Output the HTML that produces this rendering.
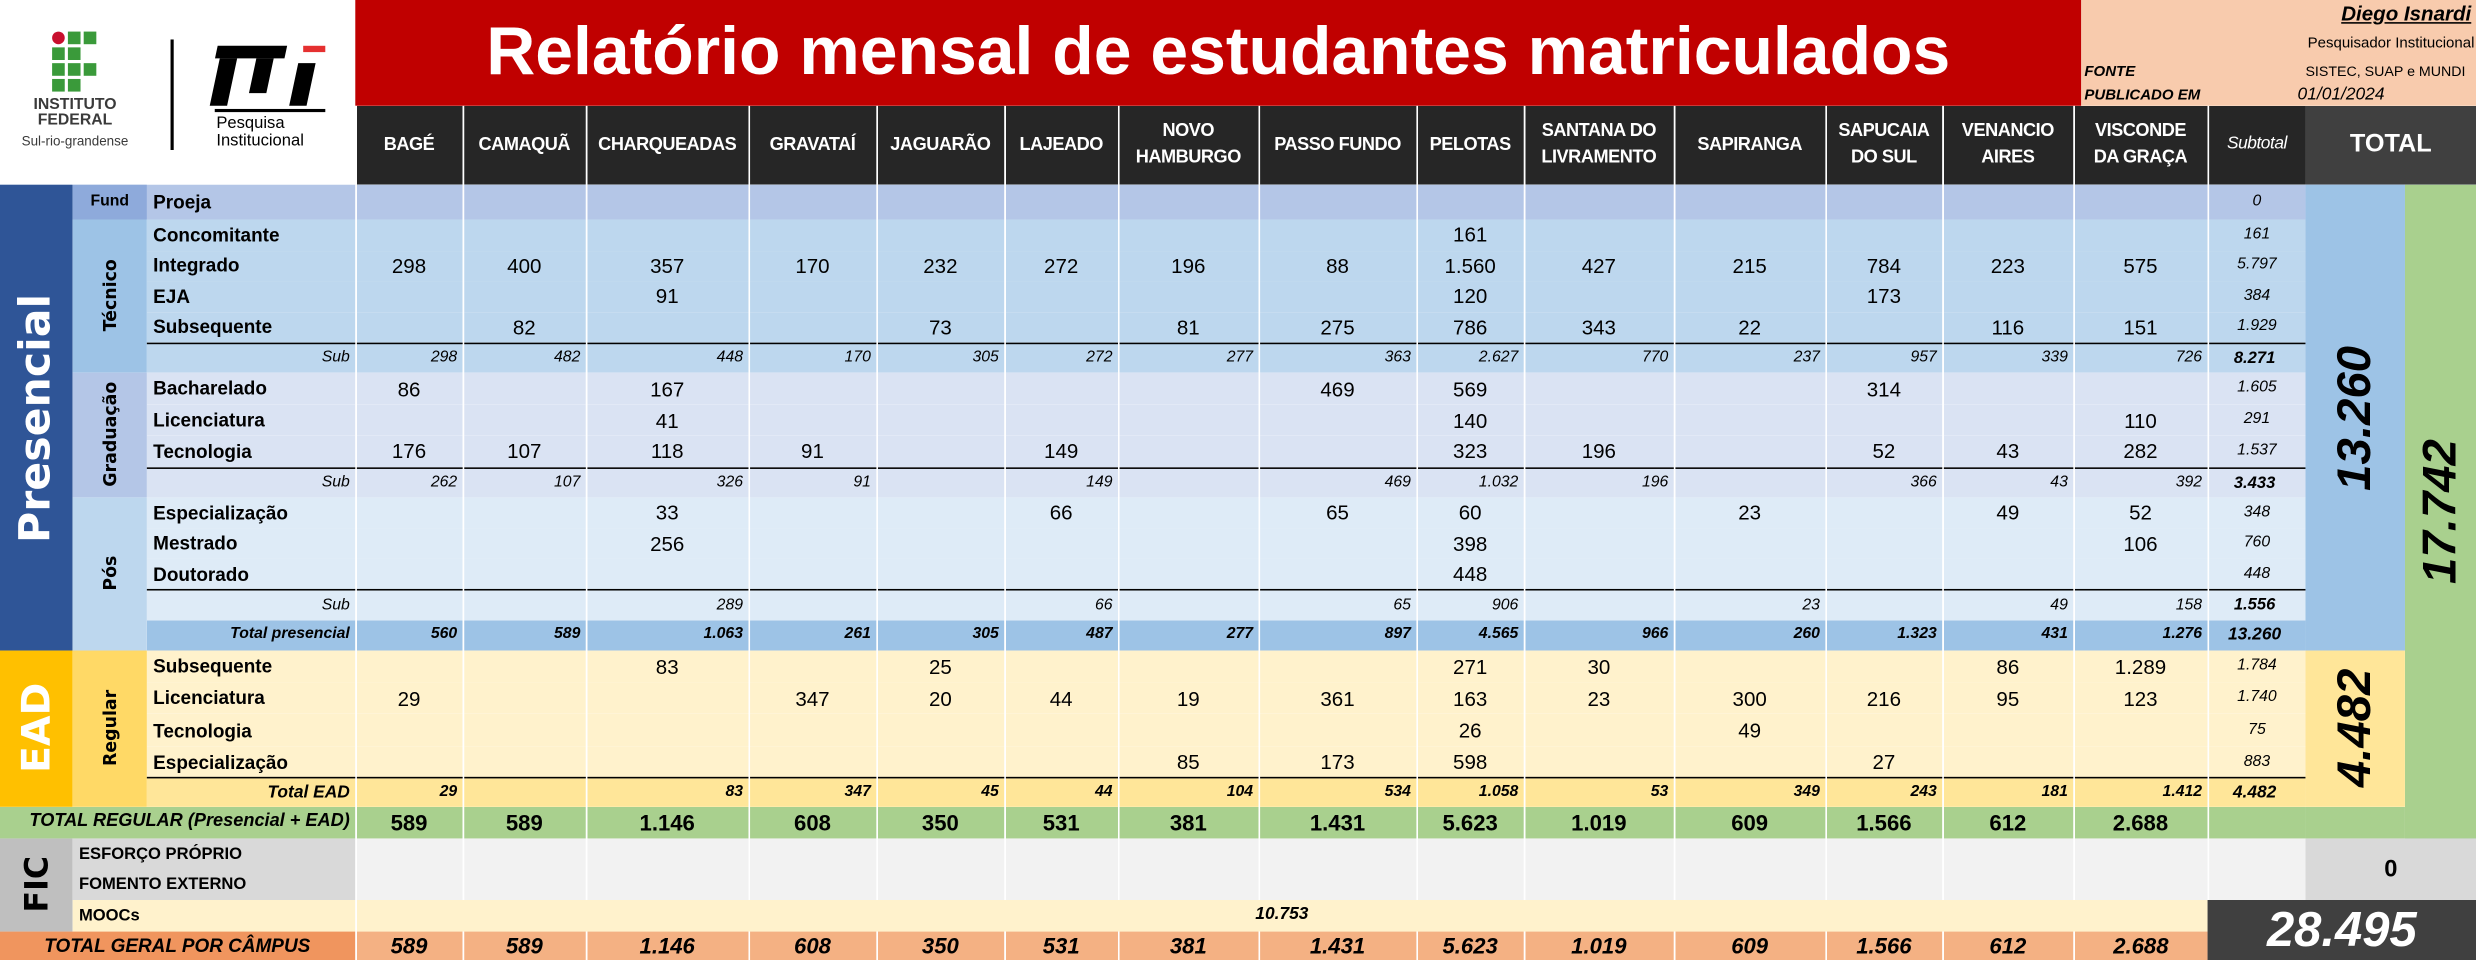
<!DOCTYPE html>
<html><head><meta charset="utf-8">
<style>
html,body{margin:0;padding:0;background:#fff;}
body{width:2476px;height:960px;overflow:hidden;position:relative;}
#w{position:absolute;left:0;top:0;width:1568px;height:608px;transform:scale(1.57908,1.57895);transform-origin:0 0;font-family:"Liberation Sans",sans-serif;}
.abs{position:absolute;}
table{position:absolute;left:0;top:67px;border-collapse:collapse;table-layout:fixed;width:1568px;}
td{padding:0;margin:0;overflow:hidden;white-space:nowrap;text-align:center;font-size:13px;color:#000;line-height:1;}
td.c{border-left:1px solid #fff;}
.lab{text-align:left;padding-left:4px;font-weight:bold;font-size:12px;}
.hd td.c{background:#262626;color:#fff;font-weight:bold;font-size:11.5px;line-height:1.45;letter-spacing:-0.3px;}
.sub td{font-style:italic;font-size:10px;text-align:right;padding-right:3px;border-top:1px solid #000;}
.sub td.st{text-align:center;font-size:10.5px;font-weight:bold;}
.it{font-style:italic;font-size:10px;}
.rl{position:absolute;transform:translate(-50%,-50%) rotate(-90deg);white-space:nowrap;line-height:1;}
.tp td{background:#9dc3e6;font-weight:bold;font-style:italic;font-size:10px;text-align:right;padding-right:3px;}
.te td{background:#ffe699;font-weight:bold;font-style:italic;font-size:10px;text-align:right;padding-right:3px;border-top:1px solid #000;}
.tr td{background:#a9d08e;font-weight:bold;font-size:14px;}
.tg td{background:#f4b183;font-weight:bold;font-style:italic;font-size:14px;}
.tec td{background:#bdd7ee;}
.gra td{background:#dae3f3;}
.pos td{background:#deebf7;}
.ead td{background:#fff2cc;}
.fic td{background:#f2f2f2;}
</style></head><body>
<div id="w">
<div class="abs" style="left:0;top:0;width:225px;height:117px;background:#fff;"></div>
<div class="abs" style="left:33px;top:20px;width:8px;height:8px;border-radius:50%;background:#c8102e;"></div>
<div class="abs" style="left:43px;top:20px;width:8px;height:8px;background:#3a9a3a;"></div>
<div class="abs" style="left:53px;top:20px;width:8px;height:8px;background:#3a9a3a;"></div>
<div class="abs" style="left:33px;top:30px;width:8px;height:8px;background:#3a9a3a;"></div>
<div class="abs" style="left:43px;top:30px;width:8px;height:8px;background:#3a9a3a;"></div>
<div class="abs" style="left:33px;top:40px;width:8px;height:8px;background:#3a9a3a;"></div>
<div class="abs" style="left:43px;top:40px;width:8px;height:8px;background:#3a9a3a;"></div>
<div class="abs" style="left:53px;top:40px;width:8px;height:8px;background:#3a9a3a;"></div>
<div class="abs" style="left:33px;top:50px;width:8px;height:8px;background:#3a9a3a;"></div>
<div class="abs" style="left:43px;top:50px;width:8px;height:8px;background:#3a9a3a;"></div>
<div class="abs" style="left:10px;top:62px;width:75px;text-align:center;font-weight:bold;font-size:10px;line-height:10px;color:#3a3a3a;">INSTITUTO<br>FEDERAL</div>
<div class="abs" style="left:5px;top:84px;width:85px;text-align:center;font-size:8.5px;color:#3a3a3a;">Sul-rio-grandense</div>
<div class="abs" style="left:108px;top:25px;width:1.5px;height:70px;background:#000;"></div>
<div class="abs" style="left:137px;top:29px;width:44px;height:8px;background:#000;transform:skewX(-12deg);"></div>
<div class="abs" style="left:136px;top:37px;width:11px;height:30px;background:#000;transform:skewX(-12deg);"></div>
<div class="abs" style="left:160px;top:37px;width:11px;height:22px;background:#000;transform:skewX(-12deg);"></div>
<div class="abs" style="left:186px;top:40px;width:11px;height:27px;background:#000;transform:skewX(-12deg);"></div>
<div class="abs" style="left:192px;top:29px;width:14px;height:4px;background:#e53030;"></div>
<div class="abs" style="left:136px;top:69px;width:70px;height:2px;background:#000;"></div>
<div class="abs" style="left:137px;top:73px;font-size:10.5px;line-height:11px;color:#000;">Pesquisa<br>Institucional</div>
<div class="abs" style="left:225px;top:0;width:1093px;height:67px;background:#c00000;color:#fff;font-weight:bold;font-size:43px;line-height:67px;text-align:center;white-space:nowrap;">Relatório mensal de estudantes matriculados</div>
<div class="abs" style="left:1318px;top:0;width:250px;height:67px;background:#f8cbad;"></div>
<div class="abs" style="left:1318px;top:1px;width:247px;text-align:right;font-weight:bold;font-style:italic;font-size:13px;text-decoration:underline;white-space:nowrap;">Diego Isnardi</div>
<div class="abs" style="left:1318px;top:22px;width:249px;text-align:right;font-size:9.5px;white-space:nowrap;">Pesquisador Institucional</div>
<div class="abs" style="left:1320px;top:40px;font-weight:bold;font-style:italic;font-size:9.5px;white-space:nowrap;">FONTE</div>
<div class="abs" style="left:1460px;top:40px;font-size:9px;white-space:nowrap;">SISTEC, SUAP e MUNDI</div>
<div class="abs" style="left:1320px;top:55px;font-weight:bold;font-style:italic;font-size:9.5px;white-space:nowrap;">PUBLICADO EM</div>
<div class="abs" style="left:1455px;top:54px;font-style:italic;font-size:11px;white-space:nowrap;">01/01/2024</div>

<table>
<colgroup><col style="width:46px"><col style="width:47px"><col style="width:132px"><col style="width:68px"><col style="width:78px"><col style="width:103px"><col style="width:81px"><col style="width:81px"><col style="width:72px"><col style="width:89px"><col style="width:100px"><col style="width:68px"><col style="width:95px"><col style="width:96px"><col style="width:74px"><col style="width:83px"><col style="width:85px"><col style="width:62px"><col style="width:63px"><col style="width:45px"></colgroup>
<tr class="hd" style="height:50px"><td colspan="3" style="background:transparent"></td><td class="c">BAGÉ</td><td class="c">CAMAQUÃ</td><td class="c">CHARQUEADAS</td><td class="c">GRAVATAÍ</td><td class="c">JAGUARÃO</td><td class="c">LAJEADO</td><td class="c">NOVO<br>HAMBURGO</td><td class="c">PASSO FUNDO</td><td class="c">PELOTAS</td><td class="c">SANTANA DO<br>LIVRAMENTO</td><td class="c">SAPIRANGA</td><td class="c">SAPUCAIA<br>DO SUL</td><td class="c">VENANCIO<br>AIRES</td><td class="c">VISCONDE<br>DA GRAÇA</td><td class="c" style="font-weight:normal;font-style:italic;font-size:11px">Subtotal</td><td colspan="2" style="background:#404040;color:#fff;font-weight:bold;font-size:16px;">TOTAL</td></tr>
<tr style="height:22px;background:#b4c6e7"><td rowspan="15" style="background:#2f5597;"></td><td style="background:#8eaadb;font-weight:bold;font-size:10px;">Fund</td><td class="lab">Proeja</td><td class="c"></td><td class="c"></td><td class="c"></td><td class="c"></td><td class="c"></td><td class="c"></td><td class="c"></td><td class="c"></td><td class="c"></td><td class="c"></td><td class="c"></td><td class="c"></td><td class="c"></td><td class="c"></td><td class="c it">0</td><td rowspan="15" style="background:#9dc3e6;"></td><td rowspan="21" style="background:#a9d08e;"></td></tr>
<tr class="tec" style="height:19.5px"><td rowspan="5" style="background:#9dc3e6!important;"></td><td class="lab">Concomitante</td><td class="c"></td><td class="c"></td><td class="c"></td><td class="c"></td><td class="c"></td><td class="c"></td><td class="c"></td><td class="c"></td><td class="c">161</td><td class="c"></td><td class="c"></td><td class="c"></td><td class="c"></td><td class="c"></td><td class="c it">161</td></tr>
<tr class="tec" style="height:19.5px"><td class="lab">Integrado</td><td class="c">298</td><td class="c">400</td><td class="c">357</td><td class="c">170</td><td class="c">232</td><td class="c">272</td><td class="c">196</td><td class="c">88</td><td class="c">1.560</td><td class="c">427</td><td class="c">215</td><td class="c">784</td><td class="c">223</td><td class="c">575</td><td class="c it">5.797</td></tr>
<tr class="tec" style="height:19.5px"><td class="lab">EJA</td><td class="c"></td><td class="c"></td><td class="c">91</td><td class="c"></td><td class="c"></td><td class="c"></td><td class="c"></td><td class="c"></td><td class="c">120</td><td class="c"></td><td class="c"></td><td class="c">173</td><td class="c"></td><td class="c"></td><td class="c it">384</td></tr>
<tr class="tec" style="height:19.5px"><td class="lab">Subsequente</td><td class="c"></td><td class="c">82</td><td class="c"></td><td class="c"></td><td class="c">73</td><td class="c"></td><td class="c">81</td><td class="c">275</td><td class="c">786</td><td class="c">343</td><td class="c">22</td><td class="c"></td><td class="c">116</td><td class="c">151</td><td class="c it">1.929</td></tr>
<tr class="tec sub" style="height:19px"><td>Sub</td><td class="c">298</td><td class="c">482</td><td class="c">448</td><td class="c">170</td><td class="c">305</td><td class="c">272</td><td class="c">277</td><td class="c">363</td><td class="c">2.627</td><td class="c">770</td><td class="c">237</td><td class="c">957</td><td class="c">339</td><td class="c">726</td><td class="c st">8.271</td></tr>
<tr class="gra" style="height:20px"><td rowspan="4" style="background:#b4c6e7!important;"></td><td class="lab">Bacharelado</td><td class="c">86</td><td class="c"></td><td class="c">167</td><td class="c"></td><td class="c"></td><td class="c"></td><td class="c"></td><td class="c">469</td><td class="c">569</td><td class="c"></td><td class="c"></td><td class="c">314</td><td class="c"></td><td class="c"></td><td class="c it">1.605</td></tr>
<tr class="gra" style="height:20px"><td class="lab">Licenciatura</td><td class="c"></td><td class="c"></td><td class="c">41</td><td class="c"></td><td class="c"></td><td class="c"></td><td class="c"></td><td class="c"></td><td class="c">140</td><td class="c"></td><td class="c"></td><td class="c"></td><td class="c"></td><td class="c">110</td><td class="c it">291</td></tr>
<tr class="gra" style="height:20px"><td class="lab">Tecnologia</td><td class="c">176</td><td class="c">107</td><td class="c">118</td><td class="c">91</td><td class="c"></td><td class="c">149</td><td class="c"></td><td class="c"></td><td class="c">323</td><td class="c">196</td><td class="c"></td><td class="c">52</td><td class="c">43</td><td class="c">282</td><td class="c it">1.537</td></tr>
<tr class="gra sub" style="height:19px"><td>Sub</td><td class="c">262</td><td class="c">107</td><td class="c">326</td><td class="c">91</td><td class="c"></td><td class="c">149</td><td class="c"></td><td class="c">469</td><td class="c">1.032</td><td class="c">196</td><td class="c"></td><td class="c">366</td><td class="c">43</td><td class="c">392</td><td class="c st">3.433</td></tr>
<tr class="pos" style="height:19.67px"><td rowspan="5" style="background:#bdd7ee!important;"></td><td class="lab">Especialização</td><td class="c"></td><td class="c"></td><td class="c">33</td><td class="c"></td><td class="c"></td><td class="c">66</td><td class="c"></td><td class="c">65</td><td class="c">60</td><td class="c"></td><td class="c">23</td><td class="c"></td><td class="c">49</td><td class="c">52</td><td class="c it">348</td></tr>
<tr class="pos" style="height:19.67px"><td class="lab">Mestrado</td><td class="c"></td><td class="c"></td><td class="c">256</td><td class="c"></td><td class="c"></td><td class="c"></td><td class="c"></td><td class="c"></td><td class="c">398</td><td class="c"></td><td class="c"></td><td class="c"></td><td class="c"></td><td class="c">106</td><td class="c it">760</td></tr>
<tr class="pos" style="height:19.67px"><td class="lab">Doutorado</td><td class="c"></td><td class="c"></td><td class="c"></td><td class="c"></td><td class="c"></td><td class="c"></td><td class="c"></td><td class="c"></td><td class="c">448</td><td class="c"></td><td class="c"></td><td class="c"></td><td class="c"></td><td class="c"></td><td class="c it">448</td></tr>
<tr class="pos sub" style="height:19px"><td>Sub</td><td class="c"></td><td class="c"></td><td class="c">289</td><td class="c"></td><td class="c"></td><td class="c">66</td><td class="c"></td><td class="c">65</td><td class="c">906</td><td class="c"></td><td class="c">23</td><td class="c"></td><td class="c">49</td><td class="c">158</td><td class="c st">1.556</td></tr>
<tr class="tp" style="height:19px"><td>Total presencial</td><td class="c">560</td><td class="c">589</td><td class="c">1.063</td><td class="c">261</td><td class="c">305</td><td class="c">487</td><td class="c">277</td><td class="c">897</td><td class="c">4.565</td><td class="c">966</td><td class="c">260</td><td class="c">1.323</td><td class="c">431</td><td class="c">1.276</td><td class="c" style="text-align:center;font-size:11px">13.260</td></tr>
<tr class="ead" style="height:20.25px"><td rowspan="5" style="background:#ffc000!important;"></td><td rowspan="5" style="background:#ffd966!important;"></td><td class="lab">Subsequente</td><td class="c"></td><td class="c"></td><td class="c">83</td><td class="c"></td><td class="c">25</td><td class="c"></td><td class="c"></td><td class="c"></td><td class="c">271</td><td class="c">30</td><td class="c"></td><td class="c"></td><td class="c">86</td><td class="c">1.289</td><td class="c it">1.784</td><td rowspan="5" style="background:#ffe699!important;"></td></tr>
<tr class="ead" style="height:20.25px"><td class="lab">Licenciatura</td><td class="c">29</td><td class="c"></td><td class="c"></td><td class="c">347</td><td class="c">20</td><td class="c">44</td><td class="c">19</td><td class="c">361</td><td class="c">163</td><td class="c">23</td><td class="c">300</td><td class="c">216</td><td class="c">95</td><td class="c">123</td><td class="c it">1.740</td></tr>
<tr class="ead" style="height:20.25px"><td class="lab">Tecnologia</td><td class="c"></td><td class="c"></td><td class="c"></td><td class="c"></td><td class="c"></td><td class="c"></td><td class="c"></td><td class="c"></td><td class="c">26</td><td class="c"></td><td class="c">49</td><td class="c"></td><td class="c"></td><td class="c"></td><td class="c it">75</td></tr>
<tr class="ead" style="height:20.25px"><td class="lab">Especialização</td><td class="c"></td><td class="c"></td><td class="c"></td><td class="c"></td><td class="c"></td><td class="c"></td><td class="c">85</td><td class="c">173</td><td class="c">598</td><td class="c"></td><td class="c"></td><td class="c">27</td><td class="c"></td><td class="c"></td><td class="c it">883</td></tr>
<tr class="te" style="height:18px"><td style="font-size:11px">Total EAD</td><td class="c">29</td><td class="c"></td><td class="c">83</td><td class="c">347</td><td class="c">45</td><td class="c">44</td><td class="c">104</td><td class="c">534</td><td class="c">1.058</td><td class="c">53</td><td class="c">349</td><td class="c">243</td><td class="c">181</td><td class="c">1.412</td><td class="c" style="text-align:center;font-size:11px">4.482</td></tr>
<tr class="tr" style="height:20px"><td colspan="3" style="text-align:right;padding-right:3px;font-style:italic;font-size:11.5px;">TOTAL REGULAR (Presencial + EAD)</td><td class="c">589</td><td class="c">589</td><td class="c">1.146</td><td class="c">608</td><td class="c">350</td><td class="c">531</td><td class="c">381</td><td class="c">1.431</td><td class="c">5.623</td><td class="c">1.019</td><td class="c">609</td><td class="c">1.566</td><td class="c">612</td><td class="c">2.688</td><td class="c"></td><td></td></tr>
<tr class="fic" style="height:20px"><td rowspan="3" style="background:#bfbfbf!important;"></td><td colspan="2" class="lab" style="background:#d9d9d9;font-weight:bold;font-size:10.5px;">ESFORÇO PRÓPRIO</td><td class="c"></td><td class="c"></td><td class="c"></td><td class="c"></td><td class="c"></td><td class="c"></td><td class="c"></td><td class="c"></td><td class="c"></td><td class="c"></td><td class="c"></td><td class="c"></td><td class="c"></td><td class="c"></td><td class="c"></td><td colspan="2" rowspan="2" style="background:#d9d9d9;font-weight:bold;font-size:15px;">0</td></tr>
<tr class="fic" style="height:19px"><td colspan="2" class="lab" style="background:#d9d9d9;font-weight:bold;font-size:10.5px;">FOMENTO EXTERNO</td><td class="c"></td><td class="c"></td><td class="c"></td><td class="c"></td><td class="c"></td><td class="c"></td><td class="c"></td><td class="c"></td><td class="c"></td><td class="c"></td><td class="c"></td><td class="c"></td><td class="c"></td><td class="c"></td><td class="c"></td></tr>
<tr class="ead" style="height:20px"><td colspan="2" class="lab" style="font-weight:bold;font-size:10.5px;">MOOCs</td><td colspan="14" class="c" style="font-weight:bold;font-style:italic;font-size:11px;">10.753</td><td colspan="3" rowspan="2" style="background:#404040!important;color:#fff;font-weight:bold;font-style:italic;font-size:31px;">28.495</td></tr>
<tr class="tg" style="height:18px"><td colspan="3" style="background:#f0955e;font-size:12px;">TOTAL GERAL POR CÂMPUS</td><td class="c">589</td><td class="c">589</td><td class="c">1.146</td><td class="c">608</td><td class="c">350</td><td class="c">531</td><td class="c">381</td><td class="c">1.431</td><td class="c">5.623</td><td class="c">1.019</td><td class="c">609</td><td class="c">1.566</td><td class="c">612</td><td class="c">2.688</td></tr>
</table>

<div class="rl" style="left:23px;top:265px;color:#fff;font-family:'DejaVu Sans',sans-serif;font-weight:bold;font-size:27px;">Presencial</div>
<div class="rl" style="left:70px;top:187px;font-family:'DejaVu Sans',sans-serif;font-weight:bold;font-size:11px;">Técnico</div>
<div class="rl" style="left:70px;top:275px;font-family:'DejaVu Sans',sans-serif;font-weight:bold;font-size:11px;">Graduação</div>
<div class="rl" style="left:70px;top:363px;font-family:'DejaVu Sans',sans-serif;font-weight:bold;font-size:11px;">Pós</div>
<div class="rl" style="left:23px;top:461px;color:#fff;font-family:'DejaVu Sans',sans-serif;font-weight:bold;font-size:25px;">EAD</div>
<div class="rl" style="left:70px;top:461px;font-family:'DejaVu Sans',sans-serif;font-weight:bold;font-size:11px;">Regular</div>
<div class="rl" style="left:23px;top:560px;font-family:'DejaVu Sans',sans-serif;font-weight:bold;font-size:20px;">FIC</div>
<div class="rl" style="left:1492px;top:265px;font-weight:bold;font-style:italic;font-size:30px;">13.260</div>
<div class="rl" style="left:1546px;top:324px;font-weight:bold;font-style:italic;font-size:30px;">17.742</div>
<div class="rl" style="left:1492px;top:461px;font-weight:bold;font-style:italic;font-size:30px;">4.482</div>
</div>
</body></html>
